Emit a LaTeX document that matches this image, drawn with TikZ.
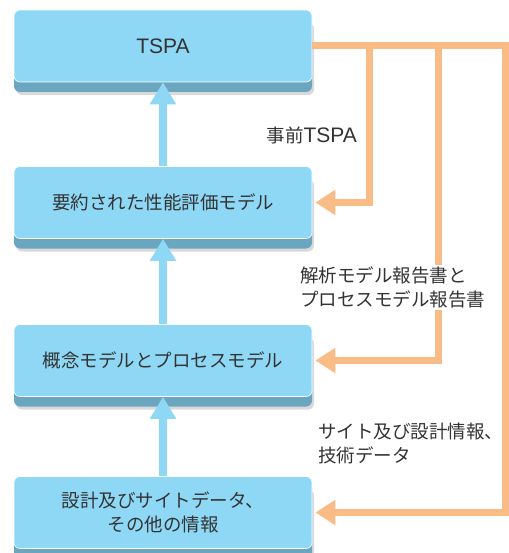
\documentclass[tikz,border=0pt]{standalone}
\usepackage{fontspec}
\setmainfont{Noto Sans CJK JP}
\newfontfamily\latinfont{Liberation Sans}
\newcommand{\acr}[1]{{\latinfont\fontsize{21}{24}\selectfont #1}}
\usetikzlibrary{arrows.meta, positioning, shadows}
\definecolor{boxface}{HTML}{8ED8F6}
\definecolor{boxbevel}{HTML}{6BA6C0}
\definecolor{feedorange}{HTML}{F9BC86}
\definecolor{textgray}{HTML}{333333}

\tikzset{
  stage/.style={rounded corners=6pt, fill=boxface, draw=white, line width=0.6pt,
    minimum width=298pt, minimum height=72pt, align=center, text=textgray,
    drop shadow={shadow xshift=2pt, shadow yshift=-13pt, opacity=0.15, fill=black},
    general shadow={shadow yshift=-10pt, fill=boxbevel, draw=none}},
  upflow/.style={draw=boxface, line width=8pt, -{Triangle[width=25pt,length=22pt]}},
  feedback/.style={draw=feedorange, line width=7pt, line join=miter,
    -{Triangle[width=24pt,length=20pt]}, shorten >=3pt},
  note/.style={text=textgray, align=left, inner sep=2pt}
}

\begin{document}
\begin{tikzpicture}[x=1pt, y=-1pt, font=\fontsize{18.5}{24}\selectfont]
  \useasboundingbox (0,0) rectangle (508,553);

  % Stages
  \node[stage] (tspa) at (163,46) {\acr{TSPA}};
  \node[stage] (model) at (163,202.5) {要約された性能評価モデル};
  \node[stage] (concept) at (163,360.5) {概念モデルとプロセスモデル};
  \node[stage] (info) at (163,512.5) {設計及びサイトデータ、\\その他の情報};

  % Upward flow
  \draw[upflow] (model.north) -- (tspa.south);
  \draw[upflow] (concept.north) -- (model.south);
  \draw[upflow] (info.north) -- (concept.south);

  % Feedback from TSPA
  \coordinate (fb1) at (369,46);
  \coordinate (fb2) at (438,46);
  \coordinate (fb3) at (505,46);
  \draw[feedback] (tspa.east) -- (fb3) |- (info.east);
  \draw[feedback] (fb2) |- (concept.east);
  \draw[feedback] (fb1) |- (model.east);

  % Labels
  \node[note, anchor=east] (pretspa) at (359,135) {事前\acr{TSPA}};
  \node[note, anchor=west, fill=white] (reports) at (298,287.5) {解析モデル報告書と\\プロセスモデル報告書};
  \node[note, anchor=west] (sitedata) at (316,443.5) {サイト及び設計情報、\\技術データ};
\end{tikzpicture}
\end{document}
